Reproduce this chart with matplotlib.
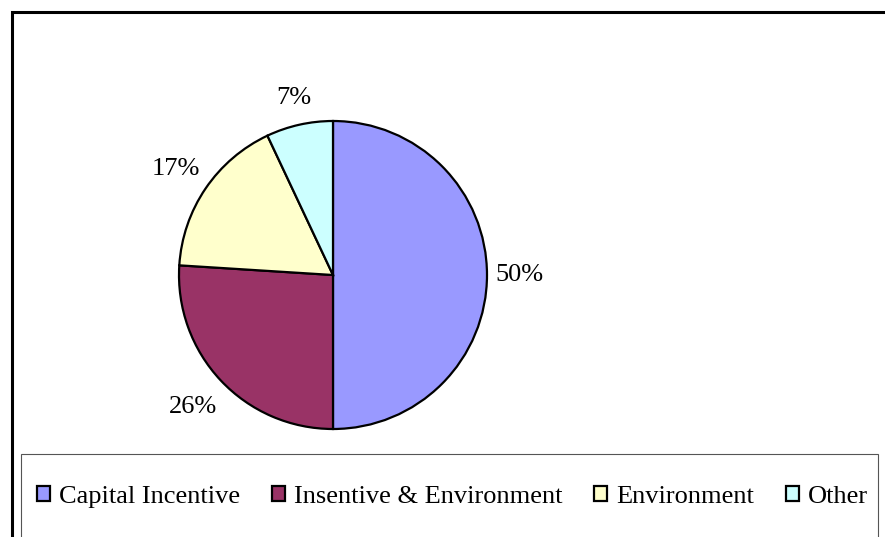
import matplotlib.pyplot as plt
import numpy as np
from matplotlib.patches import Rectangle

# data
categories = ['Capital Incentive', 'Insentive & Environment', 'Environment', 'Other']
shares = [50, 26, 17, 7]
colors = ['#9999FF', '#993366', '#FFFFCC', '#CCFFFF']

# how far each percentage label sits from the centre (in radii)
label_dist = [1.21, 1.25, 1.23, 1.18]

plt.rcParams['font.family'] = ['Liberation Serif', 'DejaVu Serif']

W, H = 885, 537
fs = 19
fig = plt.figure(figsize=(W / 100, H / 100), dpi=100)

# outer chart frame (runs off the right and bottom edge)
fig.patches.append(Rectangle((11.5 / W, -0.05), 1.0, 1 - 11.5 / H + 0.05,
                             transform=fig.transFigure, fill=False,
                             edgecolor='black', lw=2.2))

# legend box (also clipped at the bottom)
fig.patches.append(Rectangle((21 / W, -0.05), (878 - 21) / W, 1 - 454 / H + 0.05,
                             transform=fig.transFigure, fill=False,
                             edgecolor='#555555', lw=0.8))

# pie axes: centre (333, 275), radius 154 px
ax = fig.add_axes([179 / W, (H - 429) / H, 308 / W, 308 / H])
wedges, texts = ax.pie(shares, colors=colors, startangle=90, counterclock=False,
                       radius=1.0,
                       wedgeprops=dict(edgecolor='black', linewidth=1.6))
ax.set_xlim(-1, 1)
ax.set_ylim(-1, 1)
ax.axis('off')

# percentage labels outside the pie
total = sum(shares)
for w, v, r in zip(wedges, shares, label_dist):
    mid = np.deg2rad((w.theta1 + w.theta2) / 2)
    ax.text(r * np.cos(mid), r * np.sin(mid), f'{round(100 * v / total)}%',
            ha='center', va='center', fontsize=fs, clip_on=False)

fig.legend(wedges, categories, loc='center', ncol=4, frameon=False,
           bbox_to_anchor=(452.5 / W, 1 - 497 / H), fontsize=fs,
           handlelength=0.5, handleheight=0.5, handletextpad=0.34,
           columnspacing=1.2, borderpad=0.0)

fig.savefig('out.png', dpi=100)
